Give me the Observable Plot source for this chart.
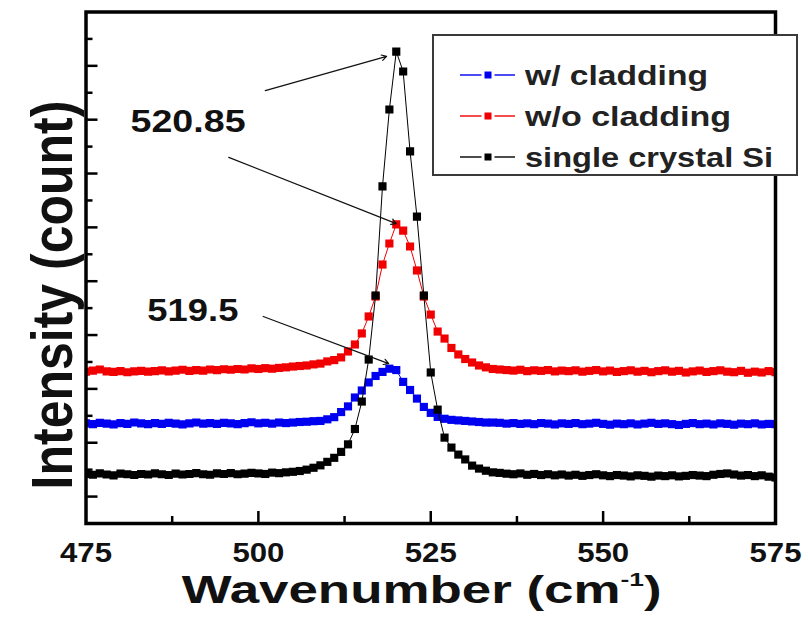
<!DOCTYPE html>
<html>
<head>
<meta charset="utf-8">
<script src="https://cdn.jsdelivr.net/npm/d3@7"></script>
<script src="https://cdn.jsdelivr.net/npm/@observablehq/plot@0.6"></script>
<style>
  html, body { margin: 0; padding: 0; background: #fff; }
  #chart { width: 808px; height: 632px; }
</style>
</head>
<body>
<div id="chart"></div>
<script>
// Raman spectra around the Si optical phonon line, one sample per cm^-1 from 475 to 575.
const wavenumber = d3.range(475, 576, 1);

const withCladding = [
  372, 369, 374, 371, 368, 373, 370, 375, 372, 369,
  373, 370, 374, 371, 368, 372, 375, 371, 373, 370,
  374, 372, 369, 373, 376, 372, 374, 371, 375, 373,
  375, 377, 378, 380, 381, 387, 395, 414, 435, 468,
  494, 524, 548, 563, 575, 570, 526, 496, 464, 433,
  411, 396, 389, 385, 383, 381, 379, 377, 375, 375,
  374, 371, 373, 370, 372, 369, 373, 371, 368, 372,
  370, 373, 369, 371, 374, 370, 367, 371, 369, 372,
  368, 371, 374, 370, 372, 369, 366, 370, 373, 369,
  371, 368, 372, 370, 367, 371, 369, 372, 368, 370, 369
];

const withoutCladding = [
  564, 568, 572, 565, 563, 566, 562, 565, 567, 564,
  566, 569, 565, 568, 571, 567, 570, 568, 572, 570,
  573, 571, 574, 572, 576, 574, 577, 575, 578, 580,
  583, 585, 587, 591, 594, 602, 607, 617, 639, 665,
  706, 769, 843, 962, 1040, 1111, 1088, 1029, 940, 843,
  776, 713, 687, 652, 628, 611, 598, 587, 580, 574,
  572, 570, 568, 571, 566, 569, 567, 570, 565, 568,
  566, 569, 564, 567, 570, 565, 568, 563, 566, 569,
  564, 567, 562, 566, 569, 564, 567, 561, 565, 568,
  563, 566, 569, 564, 562, 567, 560, 564, 561, 566, 562
];

const singleCrystalSi = [
  184, 181, 186, 182, 179, 185, 183, 180, 184, 182,
  186, 183, 180, 185, 182, 184, 187, 183, 181, 186,
  184, 187, 183, 185, 188, 186, 184, 189, 187, 190,
  192, 195, 200, 207, 216, 229, 244, 266, 294, 351,
  453, 609, 847, 1252, 1538, 1753, 1679, 1382, 1140, 847,
  561, 423, 319, 282, 256, 238, 215, 204, 196, 190,
  188, 185, 183, 186, 181, 184, 180, 183, 179, 182,
  178, 181, 177, 180, 183, 179, 176, 180, 178, 175,
  179, 177, 174, 178, 176, 179, 175, 177, 180, 178,
  176, 181, 184, 186, 182, 178, 180, 176, 179, 174, 171
];

const seriesNames = ["w/ cladding", "w/o cladding", "single crystal Si"];
const seriesColors = ["#0000f0", "#f00000", "#000000"];
const seriesValues = [withCladding, withoutCladding, singleCrystalSi];

// Axis ticks
const xTickLabels = [475, 500, 525, 550, 575];
const xMajorTicks = [500, 525, 550];
const xMinorTicks = [487.5, 512.5, 537.5, 562.5];
const yMajorTicks = [100, 300, 500, 700, 900, 1100, 1300, 1500, 1700];
const yMinorTicks = [200, 400, 600, 800, 1000, 1200, 1400, 1600, 1800];

// Peak position callouts
const peakLabelText = ["520.85", "519.5"];
const peakLabelX = [489.8, 490.5];
const peakLabelY = [1491, 791];
const arrowFromX = [501.0, 495.7, 500.7];
const arrowFromY = [1608, 1360, 769];
const arrowToX = [518.6, 520.0, 518.9];
const arrowToY = [1735, 1114, 594];

const W = 808, H = 632;
const margin = {left: 85.5, right: 33, top: 11.5, bottom: 109};
const frameW = W - margin.left - margin.right;
const frameH = H - margin.top - margin.bottom;
const FONT = "'Liberation Sans', Arial, Helvetica, sans-serif";

const rowsOf = (vals) => wavenumber.map((w, i) => ({w, v: vals[i]}));
const peakLabels = peakLabelText.map((t, i) => ({t, x: peakLabelX[i], y: peakLabelY[i]}));
const arrows = arrowFromX.map((x, i) => ({x1: x, y1: arrowFromY[i], x2: arrowToX[i], y2: arrowToY[i]}));

// draw blue, then red, then black on top
const drawOrder = [0, 1, 2];
const spectrumMarks = drawOrder.flatMap(k => {
  const rows = rowsOf(seriesValues[k]);
  return [
    Plot.line(rows, {x: "w", y: "v", stroke: seriesColors[k], strokeWidth: 1, clip: true}),
    Plot.dot(rows, {x: "w", y: "v", symbol: "square", r: 4.6, fill: seriesColors[k], stroke: "none", clip: true})
  ];
});

const svg = Plot.plot({
  width: W,
  height: H,
  marginLeft: margin.left,
  marginRight: margin.right,
  marginTop: margin.top,
  marginBottom: margin.bottom,
  style: {fontFamily: FONT, background: "white", overflow: "visible"},
  x: {domain: [475, 575], axis: null},
  y: {domain: [0, 1900], axis: null},
  marks: [
    ...spectrumMarks,
    Plot.arrow(arrows, {x1: "x1", y1: "y1", x2: "x2", y2: "y2", stroke: "#111", strokeWidth: 1.2, headLength: 7}),
    Plot.text(peakLabels, {x: "x", y: "y", text: "t", fontSize: 32, fontWeight: "bold", fill: "#111",
      textAnchor: "middle", lineAnchor: "middle", ariaDescription: "peak labels"}),
    Plot.tickX(xMajorTicks, {x: d => d, insetTop: frameH - 12, stroke: "black", strokeWidth: 2.5}),
    Plot.tickX(xMinorTicks, {x: d => d, insetTop: frameH - 7, stroke: "black", strokeWidth: 2.5}),
    Plot.tickY(yMajorTicks, {y: d => d, insetRight: frameW - 12, stroke: "black", strokeWidth: 2.5}),
    Plot.tickY(yMinorTicks, {y: d => d, insetRight: frameW - 7, stroke: "black", strokeWidth: 2.5}),
    Plot.frame({stroke: "black", strokeWidth: 3.5}),
    Plot.text(xTickLabels, {x: d => d, frameAnchor: "bottom", dy: 19, lineAnchor: "top", text: d => String(d),
      fontSize: 28, fontWeight: "bold", fill: "#111", ariaDescription: "x tick labels"})
  ]
});

document.getElementById("chart").appendChild(svg);

// widen text horizontally to its set width
function fit(el, width) {
  el.setAttribute("textLength", width);
  el.setAttribute("lengthAdjust", "spacingAndGlyphs");
}
svg.querySelectorAll('g[aria-description="x tick labels"] text').forEach(t => fit(t, 52));
const peakWidths = {"520.85": 115, "519.5": 91};
svg.querySelectorAll('g[aria-description="peak labels"] text').forEach(t => fit(t, peakWidths[t.textContent] || 100));

const root = d3.select(svg);

// Axis titles
const xTitle = root.append("text")
  .attr("x", 421.7).attr("y", 603)
  .attr("text-anchor", "middle")
  .attr("font-family", FONT).attr("font-weight", "bold").attr("font-size", 38)
  .attr("fill", "#111");
xTitle.append("tspan").text("Wavenumber (cm");
xTitle.append("tspan").attr("font-size", 19).attr("dy", -17).text("-1");
xTitle.append("tspan").attr("font-size", 38).attr("dy", 17).text(")");
fit(xTitle.node(), 480);

root.append("text")
  .attr("transform", "translate(71.7,295) scale(1.15,1) rotate(-90)")
  .attr("text-anchor", "middle")
  .attr("font-family", FONT).attr("font-weight", "bold").attr("font-size", 50)
  .attr("fill", "#111")
  .text("Intensity (count)");

// Legend box
const legend = root.append("g").attr("font-family", FONT);
legend.append("rect")
  .attr("x", 433).attr("y", 35).attr("width", 364).attr("height", 140)
  .attr("fill", "white").attr("stroke", "#3a3a3a").attr("stroke-width", 2);
const legendTextWidths = [183, 206, 248];
seriesNames.forEach((name, i) => {
  const cy = 75 + i * 41;
  legend.append("line")
    .attr("x1", 460).attr("x2", 515).attr("y1", cy).attr("y2", cy)
    .attr("stroke", seriesColors[i]).attr("stroke-opacity", 0.7).attr("stroke-width", 2);
  legend.append("rect")
    .attr("x", 484.5).attr("y", cy - 3.5).attr("width", 7).attr("height", 7)
    .attr("fill", seriesColors[i]).attr("stroke", "white").attr("stroke-width", 6)
    .attr("paint-order", "stroke");
  const t = legend.append("text")
    .attr("x", 525).attr("y", cy + 10)
    .attr("text-anchor", "start")
    .attr("font-weight", "bold").attr("font-size", 28).attr("fill", "#222")
    .text(name);
  fit(t.node(), legendTextWidths[i]);
});
</script>
</body>
</html>
